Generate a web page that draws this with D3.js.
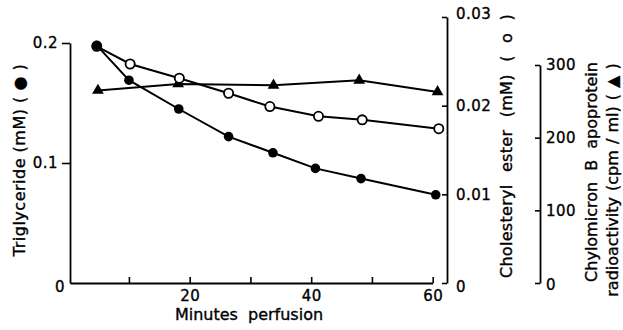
<!DOCTYPE html>
<html>
<head>
<meta charset="utf-8">
<script src="https://cdn.jsdelivr.net/npm/d3@7"></script>
<style>
  html, body { margin: 0; padding: 0; background: #fff; }
  svg { display: block; }
  text { font-family: "DejaVu Sans", sans-serif; fill: #000; stroke: #000; stroke-width: 0.35px; }
</style>
</head>
<body>
<svg id="chart" width="623" height="330"></svg>
<script>
// ---- data ----
const tgMinutes   = [4.7, 10.0, 18.2, 26.4, 33.7, 40.7, 48.2, 60.5];
const triglyceride = [0.198, 0.169, 0.145, 0.122, 0.1085, 0.0955, 0.087, 0.0735]; // mM (filled circles)

const ceMinutes   = [4.7, 10.2, 18.3, 26.4, 33.2, 41.2, 48.4, 61.0];
const cholesterylEster = [0.0267, 0.0247, 0.0231, 0.0214, 0.0199, 0.0188, 0.0184, 0.0174]; // mM (open circles)

const apoMinutes  = [4.9, 18.1, 33.8, 47.9, 60.8];
const apoB = [265, 274, 272, 279, 263]; // cpm/ml (triangles)

const xTicks = [10, 20, 30, 40, 50, 60];
const xTickLabels = [20, 40, 60];
const tgTicks = [0, 0.1, 0.2];
const ceTicks = [0, 0.01, 0.02, 0.03];
const apoTicks = [0, 100, 200, 300];

// ---- scales ----
const x   = d3.scaleLinear().domain([0.3, 60]).range([70, 432.7]);
const yTG = d3.scaleLinear().domain([0, 0.2]).range([283, 43]);
const yCE = d3.scaleLinear().domain([0, 0.03]).range([283, 17]);
const yAP = d3.scaleLinear().domain([0, 300]).range([283, 65]);

const svg = d3.select("#chart");

function styleAxis(g, size) {
  g.selectAll("path.domain").attr("stroke", "#000").attr("stroke-width", 1.8);
  g.selectAll(".tick line").attr("stroke", "#000").attr("stroke-width", 1.6);
  g.selectAll(".tick text").style("font-family", "'DejaVu Sans', sans-serif")
    .style("font-size", size + "px").style("letter-spacing", "0.5px").attr("fill", "#000");
  g.attr("font-family", null).attr("font-size", null);
}

// x axis (ticks pointing up)
const gx = svg.append("g").attr("transform", "translate(0,283)")
  .call(d3.axisBottom(x).tickValues(xTicks).tickSizeInner(-6).tickSizeOuter(0).tickPadding(7)
    .tickFormat(d => xTickLabels.includes(d) ? String(d) : ""));
styleAxis(gx, 15);

// left axis (triglyceride)
const gl = svg.append("g").attr("transform", "translate(70,0)")
  .call(d3.axisLeft(yTG).tickValues(tgTicks).tickSizeInner(8).tickSizeOuter(0).tickPadding(4)
    .tickFormat(d => d === 0 ? "0" : d3.format(".1f")(d)));
styleAxis(gl, 15);
gl.selectAll(".tick").filter(d => d === 0).select("line").remove();
gl.selectAll(".tick").filter(d => d === 0).select("text").attr("x", -5).attr("dy", "0.55em");

// right axis (cholesteryl ester)
const gr = svg.append("g").attr("transform", "translate(447,0)")
  .call(d3.axisRight(yCE).tickValues(ceTicks).tickSizeInner(-5).tickSizeOuter(0).tickPadding(9)
    .tickFormat(d => d === 0 ? "0" : d3.format(".2f")(d)));
styleAxis(gr, 15);
gr.selectAll(".tick").filter(d => d === 0).select("text").attr("dy", "0.55em");
gr.selectAll(".tick").filter(d => d === 0.03).select("text").attr("dy", "0.1em");

// third axis (apoprotein B)
const ga = svg.append("g").attr("transform", "translate(540,0)")
  .call(d3.axisRight(yAP).tickValues(apoTicks).tickSizeInner(-5).tickSizeOuter(0).tickPadding(6)
    .tickFormat(d3.format("d")));
styleAxis(ga, 15);
ga.selectAll(".tick").filter(d => d === 0).select("text").attr("dy", "0.45em");

// ---- series ----
const tgData = tgMinutes.map((m, i) => [m, triglyceride[i]]);
const ceData = ceMinutes.map((m, i) => [m, cholesterylEster[i]]);
const apData = apoMinutes.map((m, i) => [m, apoB[i]]);

const lineTG = d3.line().x(d => x(d[0])).y(d => yTG(d[1]));
const lineCE = d3.line().x(d => x(d[0])).y(d => yCE(d[1]));
const lineAP = d3.line().x(d => x(d[0])).y(d => yAP(d[1]));

[[apData, lineAP], [ceData, lineCE], [tgData, lineTG]].forEach(([data, gen]) => {
  svg.append("path").datum(data).attr("d", gen)
    .attr("fill", "none").attr("stroke", "#000").attr("stroke-width", 2);
});

// triangles
svg.append("g").selectAll("path").data(apData).join("path")
  .attr("transform", d => `translate(${x(d[0])},${yAP(d[1])})`)
  .attr("d", d3.symbol(d3.symbolTriangle, 60))
  .attr("fill", "#000");

// open circles
svg.append("g").selectAll("circle").data(ceData).join("circle")
  .attr("cx", d => x(d[0])).attr("cy", d => yCE(d[1])).attr("r", 4.6)
  .attr("fill", "#fff").attr("stroke", "#000").attr("stroke-width", 1.8);

// filled circles
svg.append("g").selectAll("circle").data(tgData).join("circle")
  .attr("cx", d => x(d[0])).attr("cy", d => yTG(d[1])).attr("r", 4.8)
  .attr("fill", "#000");

// ---- axis titles ----
svg.append("text").attr("x", 249).attr("y", 320).attr("text-anchor", "middle")
  .style("font-size", "16px").style("word-spacing", "5px").text("Minutes perfusion");

svg.append("text").attr("transform", "translate(25,160) rotate(-90)").attr("text-anchor", "middle")
  .style("font-size", "16px").style("letter-spacing", "0.5px").text("Triglyceride (mM) ( ● )");

svg.append("text").attr("transform", "translate(512,146) rotate(-90)").attr("text-anchor", "middle")
  .style("font-size", "16px").style("word-spacing", "7px").style("letter-spacing", "0.3px")
  .text("Cholesteryl ester (mM) ( o )");

svg.append("text").attr("transform", "translate(597,172) rotate(-90)").attr("text-anchor", "middle")
  .style("font-size", "16px").style("word-spacing", "6px").text("Chylomicron B apoprotein");

svg.append("text").attr("transform", "translate(618,180) rotate(-90)").attr("text-anchor", "middle")
  .style("font-size", "16px").style("word-spacing", "1px").text("radioactivity (cpm / ml) ( ▲ )");
</script>
</body>
</html>
